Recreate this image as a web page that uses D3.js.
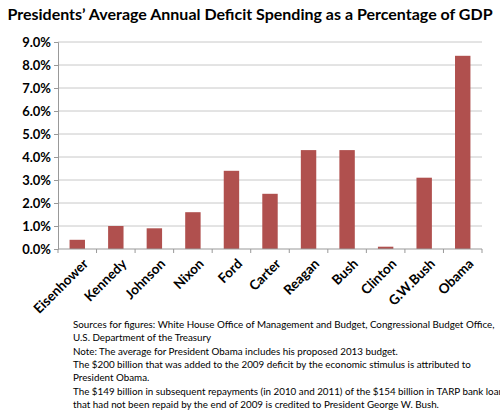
<!DOCTYPE html>
<html><head><meta charset="utf-8">
<script src="https://cdn.jsdelivr.net/npm/d3@7"></script>
<style>body{margin:0;background:#fff}text{font-family:Lato,"Open Sans",sans-serif}</style>
</head><body><div id="chart"></div>
<script>
let presidents = ['Eisenhower','Kennedy','Johnson','Nixon','Ford','Carter','Reagan','Bush','Clinton','G.W.Bush','Obama'];
let deficit = [0.4, 1.0, 0.9, 1.6, 3.4, 2.4, 4.3, 4.3, 0.1, 3.1, 8.4];
let yTicks = [0,1,2,3,4,5,6,7,8,9];
let notes = [
  'Sources for figures: White House Office of Management and Budget, Congressional Budget Office,',
  'U.S. Department of the Treasury',
  'Note: The average for President Obama includes his proposed 2013 budget.',
  'The $200 billion that was added to the 2009 deficit by the economic stimulus is attributed to',
  'President Obama.',
  'The $149 billion in subsequent repayments (in 2010 and 2011) of the $154 billion in TARP bank loans',
  'that had not been repaid by the end of 2009 is credited to President George W. Bush.'
];

let svg = d3.select('#chart').append('svg').attr('width', 500).attr('height', 416);

svg.append('text').attr('x', 250).attr('y', 20).attr('text-anchor', 'middle')
    .style('font-size', '16px').style('font-weight', 'bold')
    .text('Presidents\u2019 Average Annual Deficit Spending as a Percentage of GDP');

let x = d3.scaleBand().domain(presidents).range([58, 482]).paddingInner(0.6).paddingOuter(0.3);
let y = d3.scaleLinear().domain([0, 9]).range([249, 42]);

// grid
svg.append('g').selectAll('line').data(yTicks.slice(1)).join('line')
    .attr('x1', 58).attr('x2', 482).attr('y1', d => y(d)).attr('y2', d => y(d))
    .style('stroke', '#c8c8c8').style('stroke-width', 1);

let yAxis = svg.append('g').attr('transform', 'translate(58,0)')
    .call(d3.axisLeft(y).tickValues(yTicks).tickFormat(d => d.toFixed(1) + '%').tickSize(4));
yAxis.selectAll('text').style('font-size', '13px').style('font-weight', 'bold').style('fill', '#000');
yAxis.selectAll('line,path').style('stroke', '#999');

svg.append('g').selectAll('rect').data(deficit).join('rect')
    .attr('x', (d, i) => x(presidents[i])).attr('width', x.bandwidth())
    .attr('y', d => y(d)).attr('height', d => y(0) - y(d))
    .style('fill', '#b0504e');

let step = x.step();
let xAxis = svg.append('g').attr('transform', 'translate(0,249)');
xAxis.append('line').attr('x1', 58).attr('x2', 482).style('stroke', '#999');
xAxis.selectAll('.tk').data(d3.range(presidents.length + 1)).join('line')
    .attr('x1', i => 58 + i * step).attr('x2', i => 58 + i * step).attr('y2', 4).style('stroke', '#999');
xAxis.selectAll('text').data(presidents).join('text')
    .attr('transform', d => `translate(${x(d) + x.bandwidth() / 2 + 5},9) rotate(-45)`)
    .attr('text-anchor', 'end').attr('dy', '0.7em')
    .style('font-size', '13.5px').style('font-weight', 'bold')
    .text(d => d);

svg.append('g').selectAll('text').data(notes).join('text')
    .attr('x', 73).attr('y', (d, i) => 328 + i * 13.3)
    .style('font-size', '9.8px').text(d => d);
</script></body></html>
